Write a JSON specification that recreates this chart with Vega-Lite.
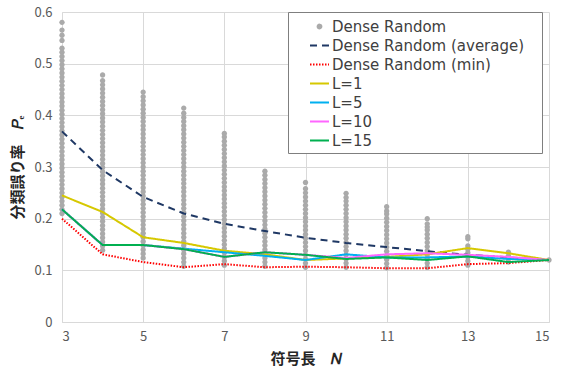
{
  "$schema": "https://vega.github.io/schema/vega-lite/v6.json",
  "width": 487,
  "height": 310,
  "autosize": {"type": "none"},
  "padding": {"left": 62, "top": 12, "right": 16, "bottom": 47},
  "background": "white",
  "config": {
    "view": {"stroke": null},
    "axis": {
      "grid": true,
      "gridColor": "#d9d9d9",
      "gridWidth": 1,
      "domainColor": "#d9d9d9",
      "ticks": false,
      "labelColor": "#595959",
      "labelFont": "Noto Sans CJK JP",
      "labelFontSize": 13,
      "titleFont": "Noto Sans CJK JP",
      "titleFontSize": 15,
      "titleFontWeight": "bold",
      "titleColor": "#262626"
    },
    "legend": {
      "orient": "none",
      "legendX": 226,
      "legendY": 0,
      "fillColor": "white",
      "strokeColor": "#7f7f7f",
      "padding": 4,
      "symbolSize": 361,
      "symbolStrokeWidth": 2,
      "symbolOffset": 17,
      "labelOffset": 2,
      "rowPadding": 0,
      "labelFont": "DejaVu Sans",
      "labelFontSize": 15,
      "labelColor": "#404040",
      "labelLimit": 400,
      "titleOrient": "right",
      "titleFontSize": 1,
      "titlePadding": 14,
      "titleColor": "white"
    }
  },
  "datasets": {
    "pts": [
      {"N":3,"p":0.21},{"N":3,"p":0.218},{"N":3,"p":0.226},{"N":3,"p":0.234},{"N":3,"p":0.242},{"N":3,"p":0.25},{"N":3,"p":0.258},{"N":3,"p":0.266},{"N":3,"p":0.274},{"N":3,"p":0.282},{"N":3,"p":0.29},{"N":3,"p":0.298},{"N":3,"p":0.306},{"N":3,"p":0.314},{"N":3,"p":0.322},{"N":3,"p":0.33},{"N":3,"p":0.338},{"N":3,"p":0.346},{"N":3,"p":0.354},{"N":3,"p":0.362},{"N":3,"p":0.37},{"N":3,"p":0.378},{"N":3,"p":0.386},{"N":3,"p":0.394},{"N":3,"p":0.402},{"N":3,"p":0.41},{"N":3,"p":0.418},{"N":3,"p":0.426},{"N":3,"p":0.434},{"N":3,"p":0.442},{"N":3,"p":0.45},{"N":3,"p":0.458},{"N":3,"p":0.466},{"N":3,"p":0.474},{"N":3,"p":0.482},{"N":3,"p":0.49},{"N":3,"p":0.498},{"N":3,"p":0.506},{"N":3,"p":0.514},{"N":3,"p":0.522},{"N":3,"p":0.53},{"N":3,"p":0.545},{"N":3,"p":0.555},{"N":3,"p":0.565},{"N":3,"p":0.58},
      {"N":4,"p":0.139},{"N":4,"p":0.147},{"N":4,"p":0.155},{"N":4,"p":0.163},{"N":4,"p":0.171},{"N":4,"p":0.179},{"N":4,"p":0.187},{"N":4,"p":0.195},{"N":4,"p":0.203},{"N":4,"p":0.211},{"N":4,"p":0.219},{"N":4,"p":0.227},{"N":4,"p":0.235},{"N":4,"p":0.243},{"N":4,"p":0.251},{"N":4,"p":0.259},{"N":4,"p":0.267},{"N":4,"p":0.275},{"N":4,"p":0.283},{"N":4,"p":0.291},{"N":4,"p":0.299},{"N":4,"p":0.307},{"N":4,"p":0.315},{"N":4,"p":0.323},{"N":4,"p":0.331},{"N":4,"p":0.339},{"N":4,"p":0.347},{"N":4,"p":0.355},{"N":4,"p":0.363},{"N":4,"p":0.371},{"N":4,"p":0.379},{"N":4,"p":0.387},{"N":4,"p":0.395},{"N":4,"p":0.403},{"N":4,"p":0.411},{"N":4,"p":0.419},{"N":4,"p":0.427},{"N":4,"p":0.435},{"N":4,"p":0.443},{"N":4,"p":0.451},{"N":4,"p":0.459},{"N":4,"p":0.467},{"N":4,"p":0.478},
      {"N":5,"p":0.124},{"N":5,"p":0.132},{"N":5,"p":0.14},{"N":5,"p":0.148},{"N":5,"p":0.156},{"N":5,"p":0.164},{"N":5,"p":0.172},{"N":5,"p":0.18},{"N":5,"p":0.188},{"N":5,"p":0.196},{"N":5,"p":0.204},{"N":5,"p":0.212},{"N":5,"p":0.22},{"N":5,"p":0.228},{"N":5,"p":0.236},{"N":5,"p":0.244},{"N":5,"p":0.252},{"N":5,"p":0.26},{"N":5,"p":0.268},{"N":5,"p":0.276},{"N":5,"p":0.284},{"N":5,"p":0.292},{"N":5,"p":0.3},{"N":5,"p":0.308},{"N":5,"p":0.316},{"N":5,"p":0.324},{"N":5,"p":0.332},{"N":5,"p":0.34},{"N":5,"p":0.348},{"N":5,"p":0.356},{"N":5,"p":0.364},{"N":5,"p":0.372},{"N":5,"p":0.38},{"N":5,"p":0.388},{"N":5,"p":0.396},{"N":5,"p":0.404},{"N":5,"p":0.412},{"N":5,"p":0.42},{"N":5,"p":0.428},{"N":5,"p":0.436},{"N":5,"p":0.445},
      {"N":6,"p":0.108},{"N":6,"p":0.116},{"N":6,"p":0.124},{"N":6,"p":0.132},{"N":6,"p":0.14},{"N":6,"p":0.148},{"N":6,"p":0.156},{"N":6,"p":0.164},{"N":6,"p":0.172},{"N":6,"p":0.18},{"N":6,"p":0.188},{"N":6,"p":0.196},{"N":6,"p":0.204},{"N":6,"p":0.212},{"N":6,"p":0.22},{"N":6,"p":0.228},{"N":6,"p":0.236},{"N":6,"p":0.244},{"N":6,"p":0.252},{"N":6,"p":0.26},{"N":6,"p":0.268},{"N":6,"p":0.276},{"N":6,"p":0.284},{"N":6,"p":0.292},{"N":6,"p":0.3},{"N":6,"p":0.308},{"N":6,"p":0.316},{"N":6,"p":0.324},{"N":6,"p":0.332},{"N":6,"p":0.34},{"N":6,"p":0.348},{"N":6,"p":0.356},{"N":6,"p":0.364},{"N":6,"p":0.372},{"N":6,"p":0.38},{"N":6,"p":0.388},{"N":6,"p":0.396},{"N":6,"p":0.404},{"N":6,"p":0.414},
      {"N":7,"p":0.11},{"N":7,"p":0.118},{"N":7,"p":0.126},{"N":7,"p":0.134},{"N":7,"p":0.142},{"N":7,"p":0.15},{"N":7,"p":0.158},{"N":7,"p":0.166},{"N":7,"p":0.174},{"N":7,"p":0.182},{"N":7,"p":0.19},{"N":7,"p":0.198},{"N":7,"p":0.206},{"N":7,"p":0.214},{"N":7,"p":0.222},{"N":7,"p":0.23},{"N":7,"p":0.238},{"N":7,"p":0.246},{"N":7,"p":0.254},{"N":7,"p":0.262},{"N":7,"p":0.27},{"N":7,"p":0.278},{"N":7,"p":0.286},{"N":7,"p":0.294},{"N":7,"p":0.302},{"N":7,"p":0.31},{"N":7,"p":0.318},{"N":7,"p":0.326},{"N":7,"p":0.334},{"N":7,"p":0.342},{"N":7,"p":0.35},{"N":7,"p":0.358},{"N":7,"p":0.365},
      {"N":8,"p":0.108},{"N":8,"p":0.116},{"N":8,"p":0.124},{"N":8,"p":0.132},{"N":8,"p":0.14},{"N":8,"p":0.148},{"N":8,"p":0.156},{"N":8,"p":0.164},{"N":8,"p":0.172},{"N":8,"p":0.18},{"N":8,"p":0.188},{"N":8,"p":0.196},{"N":8,"p":0.204},{"N":8,"p":0.212},{"N":8,"p":0.22},{"N":8,"p":0.228},{"N":8,"p":0.236},{"N":8,"p":0.244},{"N":8,"p":0.252},{"N":8,"p":0.26},{"N":8,"p":0.268},{"N":8,"p":0.276},{"N":8,"p":0.284},{"N":8,"p":0.292},
      {"N":9,"p":0.106},{"N":9,"p":0.114},{"N":9,"p":0.122},{"N":9,"p":0.13},{"N":9,"p":0.138},{"N":9,"p":0.146},{"N":9,"p":0.154},{"N":9,"p":0.162},{"N":9,"p":0.17},{"N":9,"p":0.178},{"N":9,"p":0.186},{"N":9,"p":0.194},{"N":9,"p":0.202},{"N":9,"p":0.21},{"N":9,"p":0.218},{"N":9,"p":0.226},{"N":9,"p":0.234},{"N":9,"p":0.242},{"N":9,"p":0.25},{"N":9,"p":0.258},{"N":9,"p":0.27},
      {"N":10,"p":0.106},{"N":10,"p":0.114},{"N":10,"p":0.122},{"N":10,"p":0.13},{"N":10,"p":0.138},{"N":10,"p":0.146},{"N":10,"p":0.154},{"N":10,"p":0.162},{"N":10,"p":0.17},{"N":10,"p":0.178},{"N":10,"p":0.186},{"N":10,"p":0.194},{"N":10,"p":0.202},{"N":10,"p":0.21},{"N":10,"p":0.218},{"N":10,"p":0.226},{"N":10,"p":0.234},{"N":10,"p":0.241},{"N":10,"p":0.249},
      {"N":11,"p":0.105},{"N":11,"p":0.113},{"N":11,"p":0.121},{"N":11,"p":0.129},{"N":11,"p":0.137},{"N":11,"p":0.145},{"N":11,"p":0.153},{"N":11,"p":0.161},{"N":11,"p":0.169},{"N":11,"p":0.177},{"N":11,"p":0.185},{"N":11,"p":0.193},{"N":11,"p":0.201},{"N":11,"p":0.209},{"N":11,"p":0.215},{"N":11,"p":0.223},
      {"N":12,"p":0.106},{"N":12,"p":0.114},{"N":12,"p":0.122},{"N":12,"p":0.13},{"N":12,"p":0.138},{"N":12,"p":0.146},{"N":12,"p":0.154},{"N":12,"p":0.162},{"N":12,"p":0.17},{"N":12,"p":0.178},{"N":12,"p":0.184},{"N":12,"p":0.19},{"N":12,"p":0.2},
      {"N":13,"p":0.11},{"N":13,"p":0.118},{"N":13,"p":0.126},{"N":13,"p":0.134},{"N":13,"p":0.141},{"N":13,"p":0.147},{"N":13,"p":0.161},{"N":13,"p":0.165},
      {"N":14,"p":0.116},{"N":14,"p":0.122},{"N":14,"p":0.128},{"N":14,"p":0.135},
      {"N":15,"p":0.12}
    ],
    "lines": [
      {"series":"Dense Random (average)","N":3,"p":0.369},{"series":"Dense Random (average)","N":4,"p":0.294},{"series":"Dense Random (average)","N":5,"p":0.242},{"series":"Dense Random (average)","N":6,"p":0.21},{"series":"Dense Random (average)","N":7,"p":0.19},{"series":"Dense Random (average)","N":8,"p":0.176},{"series":"Dense Random (average)","N":9,"p":0.163},{"series":"Dense Random (average)","N":10,"p":0.153},{"series":"Dense Random (average)","N":11,"p":0.145},{"series":"Dense Random (average)","N":12,"p":0.137},{"series":"Dense Random (average)","N":13,"p":0.13},{"series":"Dense Random (average)","N":14,"p":0.125},{"series":"Dense Random (average)","N":15,"p":0.12},
      {"series":"Dense Random (min)","N":3,"p":0.2},{"series":"Dense Random (min)","N":4,"p":0.131},{"series":"Dense Random (min)","N":5,"p":0.116},{"series":"Dense Random (min)","N":6,"p":0.106},{"series":"Dense Random (min)","N":7,"p":0.112},{"series":"Dense Random (min)","N":8,"p":0.106},{"series":"Dense Random (min)","N":9,"p":0.107},{"series":"Dense Random (min)","N":10,"p":0.106},{"series":"Dense Random (min)","N":11,"p":0.104},{"series":"Dense Random (min)","N":12,"p":0.104},{"series":"Dense Random (min)","N":13,"p":0.112},{"series":"Dense Random (min)","N":14,"p":0.114},{"series":"Dense Random (min)","N":15,"p":0.12},
      {"series":"L=1","N":3,"p":0.245},{"series":"L=1","N":4,"p":0.213},{"series":"L=1","N":5,"p":0.164},{"series":"L=1","N":6,"p":0.153},{"series":"L=1","N":7,"p":0.138},{"series":"L=1","N":8,"p":0.131},{"series":"L=1","N":9,"p":0.12},{"series":"L=1","N":10,"p":0.123},{"series":"L=1","N":11,"p":0.126},{"series":"L=1","N":12,"p":0.131},{"series":"L=1","N":13,"p":0.143},{"series":"L=1","N":14,"p":0.133},{"series":"L=1","N":15,"p":0.12},
      {"series":"L=5","N":3,"p":0.218},{"series":"L=5","N":4,"p":0.149},{"series":"L=5","N":5,"p":0.149},{"series":"L=5","N":6,"p":0.142},{"series":"L=5","N":7,"p":0.135},{"series":"L=5","N":8,"p":0.128},{"series":"L=5","N":9,"p":0.12},{"series":"L=5","N":10,"p":0.131},{"series":"L=5","N":11,"p":0.125},{"series":"L=5","N":12,"p":0.125},{"series":"L=5","N":13,"p":0.127},{"series":"L=5","N":14,"p":0.122},{"series":"L=5","N":15,"p":0.12},
      {"series":"L=10","N":3,"p":0.218},{"series":"L=10","N":4,"p":0.149},{"series":"L=10","N":5,"p":0.149},{"series":"L=10","N":6,"p":0.141},{"series":"L=10","N":7,"p":0.126},{"series":"L=10","N":8,"p":0.135},{"series":"L=10","N":9,"p":0.13},{"series":"L=10","N":10,"p":0.124},{"series":"L=10","N":11,"p":0.131},{"series":"L=10","N":12,"p":0.133},{"series":"L=10","N":13,"p":0.13},{"series":"L=10","N":14,"p":0.126},{"series":"L=10","N":15,"p":0.12},
      {"series":"L=15","N":3,"p":0.218},{"series":"L=15","N":4,"p":0.149},{"series":"L=15","N":5,"p":0.149},{"series":"L=15","N":6,"p":0.141},{"series":"L=15","N":7,"p":0.126},{"series":"L=15","N":8,"p":0.135},{"series":"L=15","N":9,"p":0.13},{"series":"L=15","N":10,"p":0.122},{"series":"L=15","N":11,"p":0.125},{"series":"L=15","N":12,"p":0.12},{"series":"L=15","N":13,"p":0.127},{"series":"L=15","N":14,"p":0.116},{"series":"L=15","N":15,"p":0.12}
    ]
  },
  "encoding": {
    "x": {
      "field": "N", "type": "quantitative",
      "scale": {"domain": [3, 15], "nice": false, "zero": false},
      "axis": {"values": [3, 5, 7, 9, 11, 13, 15], "labelPadding": 8, "title": "符号長　𝑁", "titlePadding": 8}
    },
    "y": {
      "field": "p", "type": "quantitative",
      "scale": {"domain": [0, 0.6], "nice": false},
      "axis": {"values": [0, 0.1, 0.2, 0.3, 0.4, 0.5, 0.6], "format": ".1~f", "labelPadding": 10, "title": "分類誤り率　𝑃ₑ", "titlePadding": 8}
    }
  },
  "layer": [
    {
      "data": {"name": "pts"},
      "mark": {"type": "point", "filled": true, "opacity": 1, "size": 720},
      "encoding": {
        "color": {
          "datum": "Dense Random", "type": "nominal",
          "legend": {"title": "\u00a0"},
          "scale": {
            "domain": ["Dense Random", "Dense Random (average)", "Dense Random (min)", "L=1", "L=5", "L=10", "L=15"],
            "range": ["#aaaaaa", "#1f3864", "#ff0000", "#d6c800", "#00b0f0", "#ff66ff", "#00b050"]
          }
        },
        "shape": {
          "datum": "Dense Random", "type": "nominal",
          "legend": {"title": "\u00a0"},
          "scale": {
            "domain": ["Dense Random", "Dense Random (average)", "Dense Random (min)", "L=1", "L=5", "L=10", "L=15"],
            "range": ["M0.2,0A0.2,0.2,0,1,1,-0.2,0A0.2,0.2,0,1,1,0.2,0Z", "stroke", "stroke", "stroke", "stroke", "stroke", "stroke"]
          }
        }
      }
    },
    {
      "data": {"name": "lines"},
      "mark": {"type": "line", "strokeWidth": 2},
      "encoding": {
        "strokeDash": {
          "field": "series", "type": "nominal",
          "legend": {"title": "\u00a0"},
          "scale": {
            "domain": ["Dense Random", "Dense Random (average)", "Dense Random (min)", "L=1", "L=5", "L=10", "L=15"],
            "range": [[1, 0], [7, 5], [1.5, 1.5], [1, 0], [1, 0], [1, 0], [1, 0]]
          }
        },
        "color": {
          "field": "series", "type": "nominal",
          "legend": {"title": "\u00a0"},
          "scale": {
            "domain": ["Dense Random", "Dense Random (average)", "Dense Random (min)", "L=1", "L=5", "L=10", "L=15"],
            "range": ["#aaaaaa", "#1f3864", "#ff0000", "#d6c800", "#00b0f0", "#ff66ff", "#00b050"]
          }
        }
      }
    }
  ]
}
